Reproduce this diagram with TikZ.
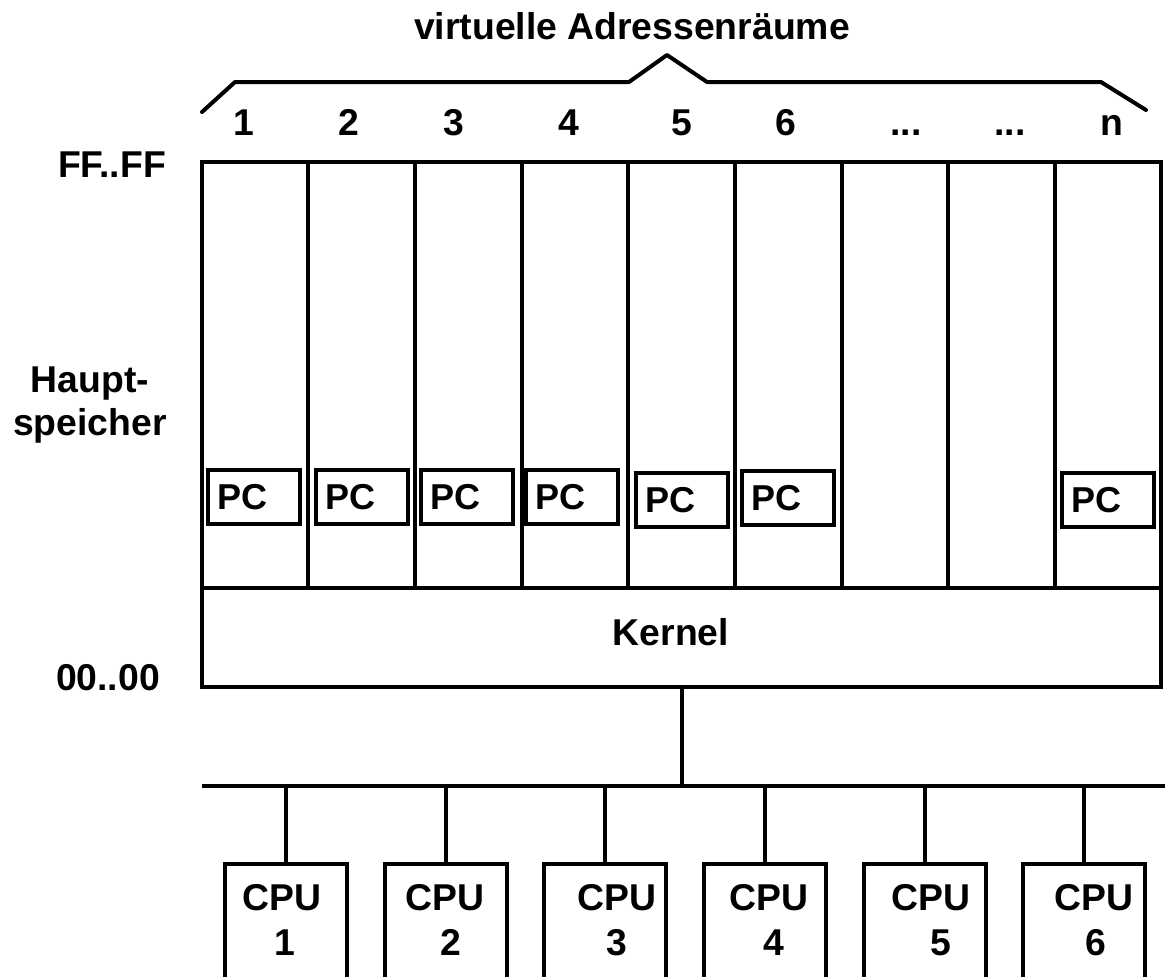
\documentclass[tikz,border=0pt]{standalone}
\usepackage{fontspec}
\setmainfont{Liberation Sans}
\tikzset{
  lbl/.style={font=\bfseries\fontsize{28}{32}\selectfont, inner sep=0pt, align=center},
  wall/.style={line width=3pt},
  pcbox/.style={draw, line width=3.6pt, minimum height=40.5pt, text width=55pt, inner xsep=7pt, inner ysep=0pt, align=left, font=\bfseries\fontsize{27}{30}\selectfont},
  kernelbox/.style={draw, line width=3pt, minimum width=719.25pt, minimum height=74.25pt, inner sep=0pt},
  cpubox/.style={draw, line width=3pt, minimum width=91.5pt, minimum height=90pt, anchor=north, inner sep=0pt}
}
\begin{document}
\begin{tikzpicture}[x=0.75pt,y=0.75pt,yscale=-1,xscale=1]
\useasboundingbox (0,0) rectangle (1165,976);

% Text Node
\node[lbl, anchor=base] (title) at (632,39) {virtuelle Adressenräume};

%Shape: Brace over the address spaces
\draw [wall, line cap=round, line join=round] (202,112) -- (235,82) -- (629,82) -- (667,55) -- (707,82) -- (1101,82) -- (1146,110);

% Text Node: numbers of the address spaces
\foreach \x/\t [count=\i] in {244/1,349/2,454/3,569/4,682/5,786/6,1112/n}
  \node[lbl, anchor=base] (num\i) at (\x,135) {\t};
\node[lbl, anchor=base] (dotsA) at (906,135) {...};
\node[lbl, anchor=base] (dotsB) at (1010,135) {...};

%Shape: Rectangle (upper part of the memory)
\draw [wall] (202,588) -- (202,162) -- (1161,162) -- (1161,588);
%Shape: columns
\foreach \x in {308,415,522,628,735,842,948,1055}
  \draw [wall] (\x,162) -- (\x,588);

% Kernel
\node[kernelbox] (kernel) at (681.5,637.5) {};
\node[lbl, anchor=base] (kerneltxt) at (671,645) {Kernel};

% PC boxes
\foreach \x/\y [count=\i] in {254/497,362/497,467/497,572/497,682/500,788/498,1108/500}
  \node[pcbox] (pc\i) at (\x,\y) {PC};

% Text Node: left side
\node[lbl, anchor=base] (high) at (112,177) {FF..FF};
\node[lbl] (mem) at (90,405) {Haupt-\\speicher};
\node[lbl, anchor=base] (low) at (108,690) {00..00};

% Bus
\coordinate (busL) at (202,786);
\coordinate (busR) at (1165,786);
\draw [wall] (busL) -- (busR);
\draw [wall] (kernel.south) -- (kernel.south |- busL);

% CPUs
\foreach \x/\cx/\dx [count=\i] in {286/282/285,446/445/451,605/617/617,765/769/774,925/931/941,1084/1094/1096} {
  \node[cpubox] (cpu\i) at (\x,862) {};
  \node[lbl, anchor=base] (cpulbl\i) at (\cx,910) {CPU};
  \node[lbl, anchor=base] (cpunum\i) at (\dx,955) {\i};
  \draw [wall] (cpu\i.north) -- (cpu\i.north |- busL);
}
\end{tikzpicture}
\end{document}
